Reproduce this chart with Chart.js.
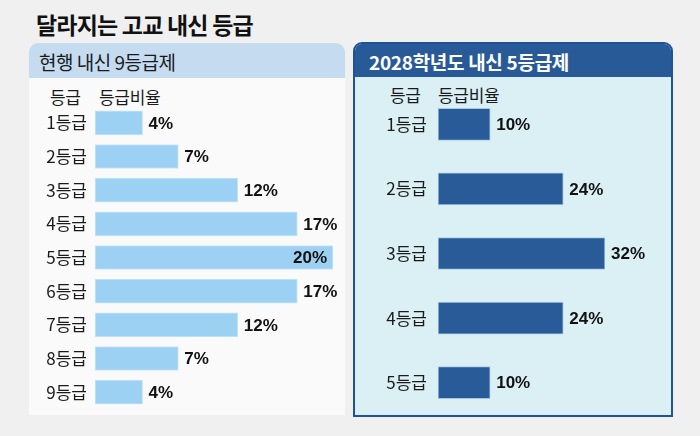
<!DOCTYPE html>
<html>
<head>
<meta charset="utf-8">
<script src="https://cdn.jsdelivr.net/npm/chart.js@4.4.1/dist/chart.umd.min.js"></script>
<style>
  html, body { margin: 0; padding: 0; }
  body { width: 700px; height: 436px; background: #f0f0f0; position: relative; overflow: hidden;
         font-family: "Noto Sans CJK KR", "Noto Sans", sans-serif; color: #111; }
  .abs { position: absolute; }
  #title { left: 36px; top: 7px; font-size: 23px; font-weight: bold; letter-spacing: -0.8px; }
  #leftPanel { left: 29px; top: 43px; width: 316px; height: 372px; background: #fafafa; border-radius: 9px 9px 0 0; overflow: hidden; }
  #leftHead { left: 0; top: 0; width: 316px; height: 35px; background: #c5dbf0; }
  #leftHead span { position: absolute; left: 10px; top: 5px; font-size: 19px; color: #1a1a1a; letter-spacing: -0.5px; }
  #rightPanel { left: 353px; top: 42px; width: 316px; height: 371px; background: #daf0f5; border: 2px solid #1f5397; border-radius: 9px 9px 0 0; overflow: hidden; }
  #rightHead { left: 0; top: 0; width: 316px; height: 33px; background: #285a98; }
  #rightHead span { position: absolute; left: 14px; top: 4px; font-size: 19px; font-weight: bold; color: #fff; letter-spacing: -0.3px; }
  .colHead { font-size: 17px; color: #1a1a1a; letter-spacing: -0.3px; }
  canvas { position: absolute; }
</style>
</head>
<body>
<div id="title" class="abs">달라지는 고교 내신 등급</div>

<div id="leftPanel" class="abs"><div id="leftHead" class="abs"><span>현행 내신 9등급제</span></div></div>
<div id="rightPanel" class="abs"><div id="rightHead" class="abs"><span>2028학년도 내신 5등급제</span></div></div>

<div class="abs colHead" style="left:50px; top:84px;">등급</div>
<div class="abs colHead" style="left:99px; top:84px;">등급비율</div>
<div class="abs colHead" style="left:390px; top:82px;">등급</div>
<div class="abs colHead" style="left:438px; top:82px;">등급비율</div>

<div id="leftBox" class="abs" style="left:29px; top:78px; width:316px; height:337px;"><canvas id="leftChart"></canvas></div>
<div id="rightBox" class="abs" style="left:354px; top:77px; width:318px; height:340px;"><canvas id="rightChart"></canvas></div>

<script>
// 현행 9등급제
const gradesNine = ["1등급", "2등급", "3등급", "4등급", "5등급", "6등급", "7등급", "8등급", "9등급"];
const shareNine = [4, 7, 12, 17, 20, 17, 12, 7, 4];

// 2028학년도 5등급제
const gradesFive = ["1등급", "2등급", "3등급", "4등급", "5등급"];
const shareFive = [10, 24, 32, 24, 10];

// draws "NN%" after each bar, or inside the bar end if it would run off the canvas
const valueLabels = {
    id: 'valueLabels',
    afterDatasetsDraw(chart) {
        const ctx = chart.ctx;
        const meta = chart.getDatasetMeta(0);
        const vals = chart.data.datasets[0].data;
        ctx.save();
        ctx.font = 'bold 17px "Liberation Sans", Arial, sans-serif';
        ctx.fillStyle = '#111';
        ctx.textBaseline = 'middle';
        meta.data.forEach(function(bar, i) {
            let txt = vals[i] + '%';
            let w = ctx.measureText(txt).width;
            let x = bar.x + 6;
            if (x + w > chart.width - 2) {
                ctx.textAlign = 'right';
                ctx.fillText(txt, bar.x - 6, bar.y + 1);
            } else {
                ctx.textAlign = 'left';
                ctx.fillText(txt, x, bar.y + 1);
            }
        });
        ctx.restore();
    }
};

function makeChart(canvasId, labels, values, opts) {
    return new Chart(document.getElementById(canvasId), {
        type: 'bar',
        data: {
            labels: labels,
            datasets: [{
                data: values,
                backgroundColor: opts.fill,
                borderColor: opts.edge,
                borderWidth: 1,
                borderSkipped: false,
                barThickness: opts.thick
            }]
        },
        options: {
            indexAxis: 'y',
            responsive: true,
            maintainAspectRatio: false,
            animation: false,
            layout: { padding: opts.pad },
            plugins: { legend: { display: false }, tooltip: { enabled: false } },
            scales: {
                x: { display: false, min: 0, max: opts.max },
                y: {
                    grid: { display: false, drawTicks: false },
                    border: { display: false },
                    ticks: {
                        color: '#1a1a1a',
                        padding: opts.tickPad,
                        font: { family: '"Noto Sans CJK KR", sans-serif', size: 17 }
                    },
                    afterFit: function(scale) {
                        scale.width = opts.axisW;
                        // keep the label half-heights from eating into the plot
                        scale.paddingTop = 0;
                        scale.paddingBottom = 0;
                    }
                }
            }
        },
        plugins: [valueLabels]
    });
}

makeChart('leftChart', gradesNine, shareNine, {
    fill: '#9dd1f3', edge: '#c9e6f8', thick: 24, max: 20,
    pad: { top: 28, bottom: 6, left: 0, right: 12 },
    tickPad: 8, axisW: 66
});

makeChart('rightChart', gradesFive, shareFive, {
    fill: '#285b98', edge: '#a9c8e0', thick: 32, max: 32,
    pad: { top: 15, bottom: 2, left: 0, right: 67 },
    tickPad: 11, axisW: 84
});
</script>
</body>
</html>
